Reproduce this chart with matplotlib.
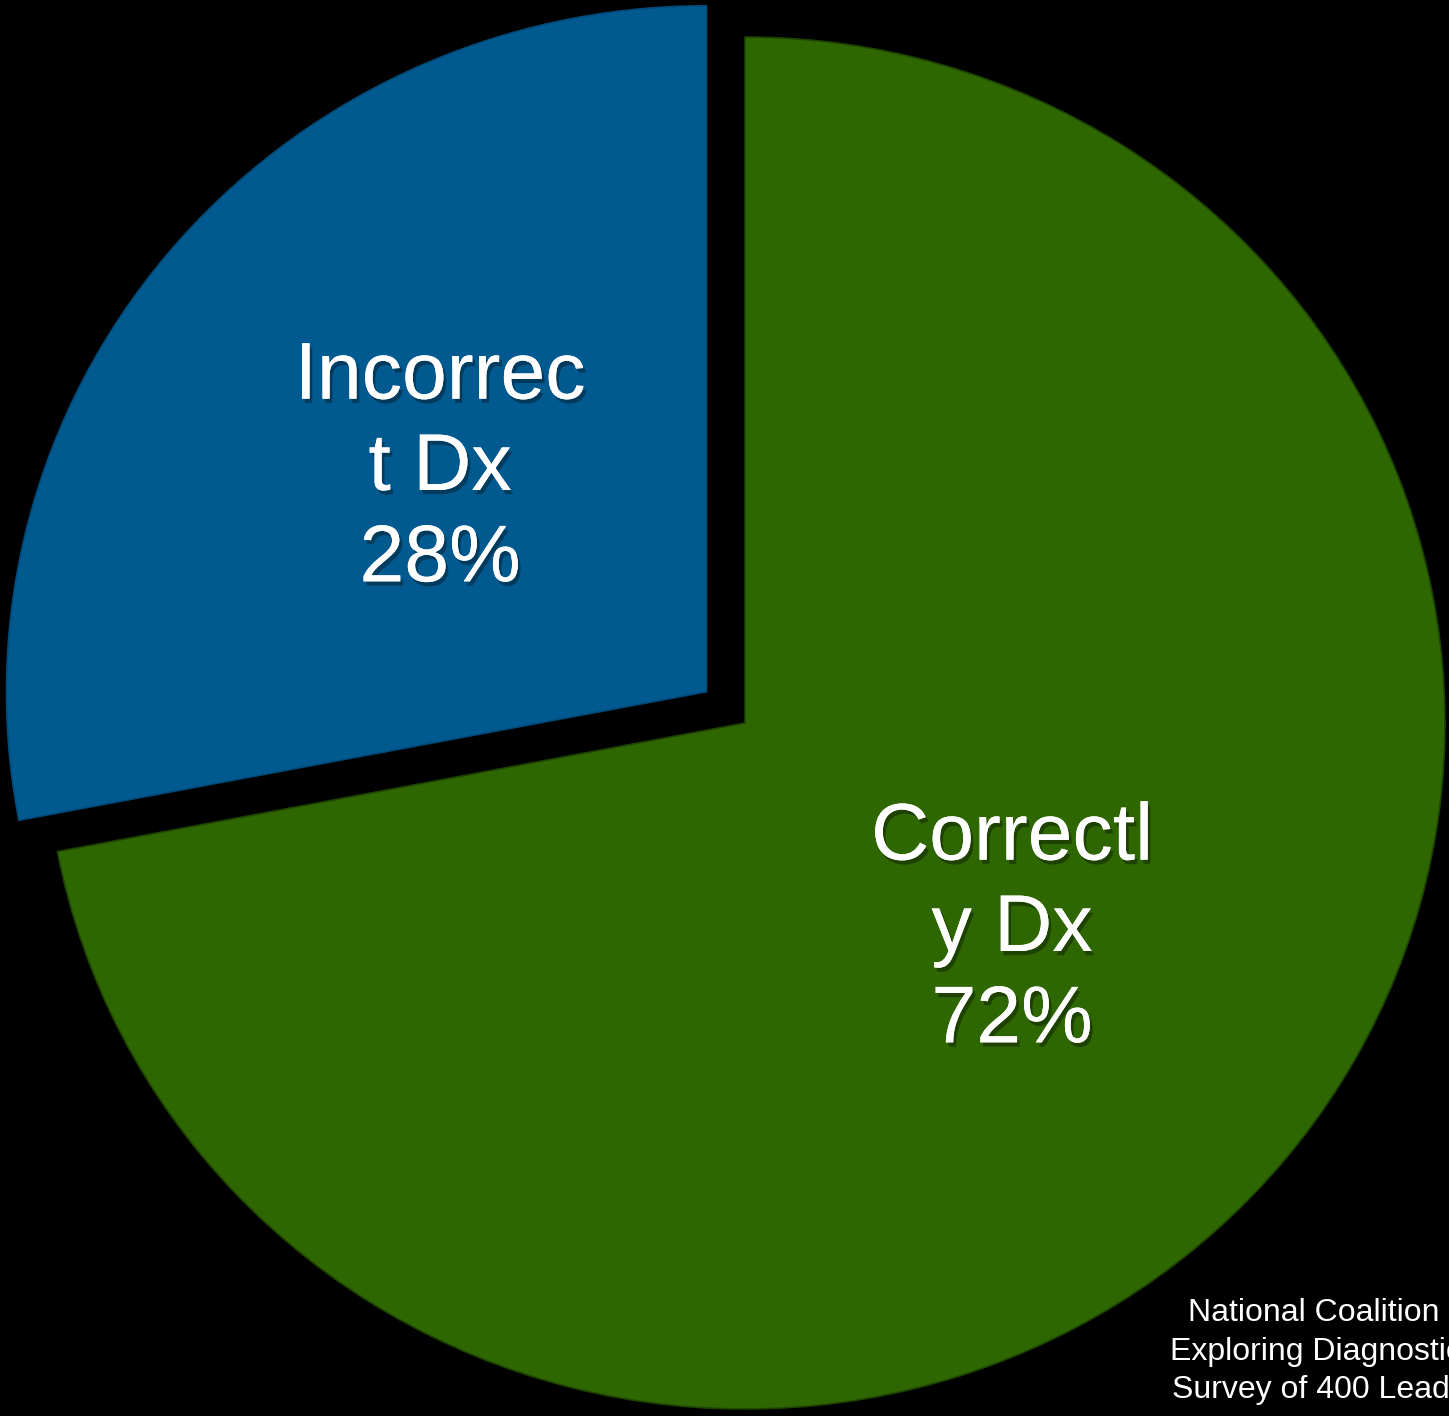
import matplotlib.pyplot as plt
import matplotlib.patheffects as pe

labels = ["Incorrec\nt Dx\n28%", "Correctl\ny Dx\n72%"]
values = [28, 72]
colors = ["#005a8f", "#2e6600"]
edge_colors = ["#004a78", "#1d4200"]
explode = [50, 0]   # pie explode is in data units (pixels here)
source_lines = ["National Coalition on Health Care",
                "Exploring Diagnostic Accuracy",
                "Survey of 400 Leaders"]

W, H = 1449, 1416
SY = 686 / 700  # the pie is drawn a little flatter than round

fig = plt.figure(figsize=(W / 100, H / 100), dpi=100, facecolor="black")
ax = fig.add_axes([0, 0, 1, 1])
ax.set_facecolor("black")


def py(y):
    # pixel row -> data y
    return -y / SY


wedges, texts = ax.pie(values, colors=colors, explode=explode, startangle=90,
                       counterclock=True, radius=700, center=(745, py(723)),
                       wedgeprops=dict(linewidth=1.2))
for w, ec in zip(wedges, edge_colors):
    w.set_edgecolor(ec)

label_xy = [(440, 469), (1012, 930)]
for lab, (x, y) in zip(labels, label_xy):
    t = ax.text(x, py(y), lab, ha="center", va="center", color="white",
                fontsize=58, family="Liberation Sans", linespacing=1.26)
    t.set_path_effects([pe.withSimplePatchShadow(offset=(2, -3), shadow_rgbFace="black", alpha=0.35),
                        pe.Normal()])

src_x = [1188, 1170, 1172]
src_y = [1313, 1352, 1390]
for s, x, y in zip(source_lines, src_x, src_y):
    ax.text(x, py(y), s, ha="left", va="center", color="white", fontsize=23,
            family="Liberation Sans")

ax.set_xlim(0, W)
ax.set_ylim(py(H), 0)
ax.set_aspect("auto")
ax.axis("off")

fig.savefig("out.png", dpi=100, facecolor="black")
